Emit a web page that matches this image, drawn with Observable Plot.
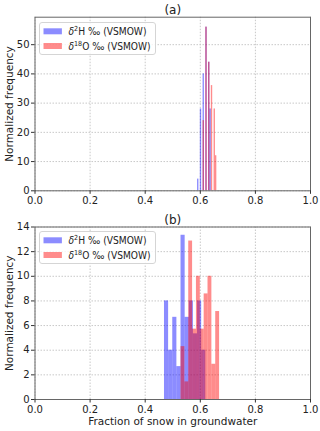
<!DOCTYPE html>
<html><head><meta charset="utf-8">
<script src="https://cdn.jsdelivr.net/npm/d3@7"></script>
<script src="https://cdn.jsdelivr.net/npm/@observablehq/plot@0.6"></script>
<style>
body{margin:0;background:#fff;font-family:"DejaVu Sans",sans-serif;}
#wrap{position:relative;width:320px;height:431px;}
#wrap > svg{display:block;}
.legend{position:absolute;left:39px;}
</style></head><body><div id="wrap"></div>
<script>
// Panel (a): histogram bins (left edge, bin width) and normalized frequencies
const aBinWidth = 0.005;
const aBlueX = [0.59, 0.60, 0.61, 0.62, 0.63, 0.635];
const aBlueH = [4, 28, 40, 56, 44, 28];
const aRedX  = [0.61, 0.62, 0.63, 0.64, 0.65, 0.655];
const aRedH  = [24, 56, 44, 36, 28, 12];

// Panel (b)
const bBlueStart = 0.47, bBlueWidth = 0.015;
const bBlueH = [8, 4, 6.67, 2.67, 13.33, 6.67, 8, 5.33, 8, 4];
const bRedStart = 0.53, bRedWidth = 0.014;
const bRedH  = [4.29, 1.43, 12.86, 5.71, 10, 5.71, 8.57, 10, 2.86, 7.14];

const xTicks = [0, 0.2, 0.4, 0.6, 0.8, 1.0];
const aYTicks = [0, 10, 20, 30, 40, 50];
const bYTicks = [0, 2, 4, 6, 8, 10, 12, 14];
const seriesIso = [["2", "H"], ["18", "O"]];

const aBlue = aBlueX.map((x, i) => ({x0: x, x1: x + aBinWidth, h: aBlueH[i]}));
const aRed  = aRedX.map((x, i) => ({x0: x, x1: x + aBinWidth, h: aRedH[i]}));
const bBlue = bBlueH.map((h, i) => ({x0: bBlueStart + i * bBlueWidth, x1: bBlueStart + (i + 1) * bBlueWidth, h}));
const bRed  = bRedH.map((h, i) => ({x0: bRedStart + i * bRedWidth, x1: bRedStart + (i + 1) * bRedWidth, h}));

function panel({title, blue, red, yMax, yTicks, height, mt, mb, xlabel}) {
  const marks = [
    Plot.gridX(xTicks, {stroke: "#c8c8c8", strokeOpacity: 1, strokeDasharray: "1.5,1.5"}),
    Plot.gridY(yTicks, {stroke: "#c8c8c8", strokeOpacity: 1, strokeDasharray: "1.5,1.5"}),
    Plot.rectY(blue, {x1: "x0", x2: "x1", y: "h", fill: "blue", fillOpacity: 0.45}),
    Plot.rectY(red, {x1: "x0", x2: "x1", y: "h", fill: "red", fillOpacity: 0.45}),
    Plot.frame({stroke: "#666"}),
    Plot.axisX(xTicks, {tickSize: 3.5, tickPadding: 2.5, tickFormat: d3.format(".1f"), label: null, stroke: "#333"}),
    Plot.axisY(yTicks, {tickSize: 3.5, tickPadding: 2, label: null, stroke: "#333"}),
    Plot.text([title], {text: d => d, frameAnchor: "top", lineAnchor: "bottom", dy: -3, fontSize: 12}),
    Plot.text(["Normalized frequency"], {text: d => d, frameAnchor: "left", textAnchor: "middle", lineAnchor: "middle", rotate: -90, dx: -25.5, fontSize: 10.5})
  ];
  if (xlabel) marks.push(Plot.text([xlabel], {text: d => d, frameAnchor: "bottom", lineAnchor: "middle", dy: 22, fontSize: 10.5}));
  return Plot.plot({
    width: 320, height, marginTop: mt, marginBottom: mb, marginLeft: 34.5, marginRight: 10,
    x: {domain: [0, 1], label: null},
    y: {domain: [0, yMax], label: null},
    style: {fontFamily: "DejaVu Sans", fontSize: "10px", color: "#222", background: "white", overflow: "visible"},
    marks
  });
}

const wrap = document.getElementById("wrap");
wrap.appendChild(panel({title: "(a)", blue: aBlue, red: aRed, yMax: 59.4, yTicks: aYTicks, height: 210, mt: 16.7, mb: 19.7}));
wrap.appendChild(panel({title: "(b)", blue: bBlue, red: bRed, yMax: 14, yTicks: bYTicks, height: 221, mt: 16.5, mb: 32, xlabel: "Fraction of snow in groundwater"}));

function legend(top) {
  const ns = "http://www.w3.org/2000/svg";
  const svg = document.createElementNS(ns, "svg");
  svg.setAttribute("class", "legend");
  svg.setAttribute("width", 117);
  svg.setAttribute("height", 33);
  svg.style.top = top + "px";
  svg.style.fontFamily = "DejaVu Sans, sans-serif";
  const colors = ["rgba(0,0,255,0.45)", "rgba(255,0,0,0.45)"];
  const lengths = [78, 82];
  let html = `<rect x="0.5" y="0.5" width="116" height="32" rx="2.5" fill="white" fill-opacity="0.8" stroke="#d5d5d5"/>`;
  seriesIso.forEach(([mass, el], i) => {
    const cy = 9.3 + i * 14.7;
    html += `<rect x="4.5" y="${cy - 3}" width="18.4" height="6" fill="${colors[i]}"/>`;
    html += `<text x="29.5" y="${cy + 3.6}" font-size="10" fill="#222" textLength="${lengths[i]}" lengthAdjust="spacingAndGlyphs">` +
      `<tspan font-style="italic">δ</tspan><tspan dy="-4" font-size="7">${mass}</tspan><tspan dy="4">${el} ‰ (VSMOW)</tspan></text>`;
  });
  svg.innerHTML = html;
  wrap.appendChild(svg);
}
legend(21.7);
legend(230.7);
</script></body></html>
